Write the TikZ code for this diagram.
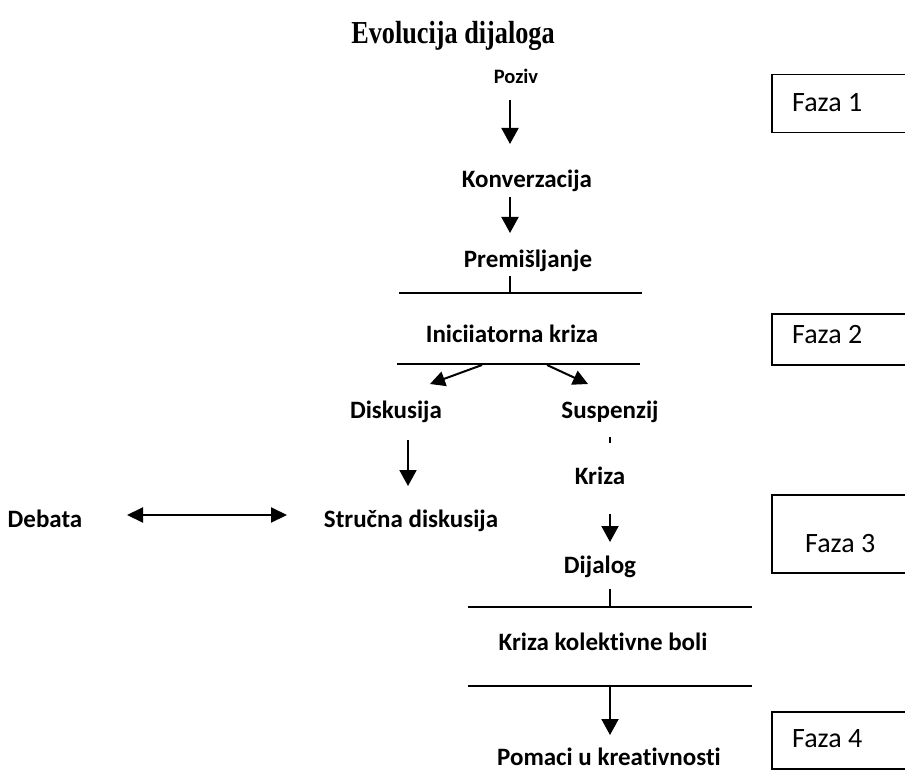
\documentclass[tikz,border=0pt]{standalone}
\usepackage{fontspec}
\setmainfont{Carlito}[Ligatures=NoCommon]
\newfontfamily\titlefont[FakeStretch=0.82]{Liberation Serif}
\usetikzlibrary{arrows.meta}

\begin{document}
\begin{tikzpicture}[x=1pt,y=-1pt,
  stage/.style={font=\bfseries\fontsize{25}{30}\selectfont, inner sep=0pt, anchor=base},
  stagesmall/.style={font=\bfseries\fontsize{20.5}{24}\selectfont, inner sep=0pt, anchor=base},
  fazabox/.style={draw, line width=1.5pt, minimum width=150pt, anchor=north west, inner sep=0pt},
  fazatext/.style={font=\fontsize{28}{33}\selectfont, inner sep=0pt, anchor=base west},
  rule/.style={line width=1.3pt},
  tick/.style={line width=1.3pt},
  arr/.style={line width=2pt, -{Triangle[width=17pt,length=16pt]}},
  arrsmall/.style={line width=2pt, -{Triangle[width=15pt,length=15pt]}},
  dblarr/.style={line width=2pt, {Triangle[width=15pt,length=16pt]}-{Triangle[width=15pt,length=16pt]}},
]
\useasboundingbox (0,0) rectangle (905,770);
\clip (0,0) rectangle (905,770);

% title
\node[font=\titlefont\bfseries\fontsize{32}{38}\selectfont, inner sep=0pt, anchor=base] (title) at (453,44) {Evolucija dijaloga};

% stage labels
\node[stagesmall] (poziv) at (516,84) {Poziv};
\node[stage] (konv) at (527,188) {Konverzacija};
\node[stage] (prem) at (528,268) {Premišljanje};
\node[stage] (inic) at (512,342) {Iniciiatorna kriza};
\node[stage] (disk) at (396,418) {Diskusija};
\node[stage] (susp) at (610,418) {Suspenzij};
\node[stage] (kriza) at (600,484) {Kriza};
\node[stage] (debata) at (45,527) {Debata};
\node[stage] (strucna) at (411,527) {Stručna diskusija};
\node[stage] (dijalog) at (600,573) {Dijalog};
\node[stage] (kolekt) at (603,650) {Kriza kolektivne boli};
\node[stage] (pomaci) at (609,765) {Pomaci u kreativnosti};

% phase boxes on the right
\node[fazabox, minimum height=58pt] (f1) at (771,74) {};
\node[fazabox, minimum height=51pt] (f2) at (771,313) {};
\node[fazabox, minimum height=78pt] (f3) at (771,494) {};
\node[fazabox, minimum height=57pt] (f4) at (771,711) {};
\node[fazatext] (f1t) at (792,112) {Faza 1};
\node[fazatext] (f2t) at (792,343) {Faza 2};
\node[fazatext] (f3t) at (805,552) {Faza 3};
\node[fazatext] (f4t) at (792,747) {Faza 4};

% connector end points
\coordinate (a1s) at (510,100);  \coordinate (a1e) at (510,144);
\coordinate (a2s) at (510,197);  \coordinate (a2e) at (510,233);
\coordinate (t1s) at (510,276);  \coordinate (t1e) at (510,293);
\coordinate (r1w) at (399,293);  \coordinate (r1e) at (642,293);
\coordinate (r2w) at (397,364);  \coordinate (r2e) at (640,364);
\coordinate (dls) at (482,365);  \coordinate (dle) at (430,384);
\coordinate (drs) at (547,365);  \coordinate (dre) at (588,384);
\coordinate (t2s) at (610,437);  \coordinate (t2e) at (610,443);
\coordinate (a3s) at (408,440);  \coordinate (a3e) at (408,486);
\coordinate (a4s) at (610,514);  \coordinate (a4e) at (610,542);
\coordinate (dbw) at (127,515);  \coordinate (dbe) at (287,515);
\coordinate (t3s) at (610,589);  \coordinate (t3e) at (610,607);
\coordinate (r3w) at (468,607);  \coordinate (r3e) at (752,607);
\coordinate (r4w) at (468,686);  \coordinate (r4e) at (752,686);
\coordinate (a5s) at (610,686);  \coordinate (a5e) at (610,735);

% phase 1
\draw[arr] (a1s) -- (a1e);
\draw[arr] (a2s) -- (a2e);
\draw[tick] (t1s) -- (t1e);
\draw[rule] (r1w) -- (r1e);

% phase 2
\draw[rule] (r2w) -- (r2e);
\draw[arrsmall] (dls) -- (dle);
\draw[arrsmall] (drs) -- (dre);
\draw[tick] (t2s) -- (t2e);
\draw[arr] (a3s) -- (a3e);
\draw[arr] (a4s) -- (a4e);
\draw[dblarr] (dbw) -- (dbe);

% phase 3 and 4
\draw[tick] (t3s) -- (t3e);
\draw[rule] (r3w) -- (r3e);
\draw[rule] (r4w) -- (r4e);
\draw[arr] (a5s) -- (a5e);
\end{tikzpicture}
\end{document}
